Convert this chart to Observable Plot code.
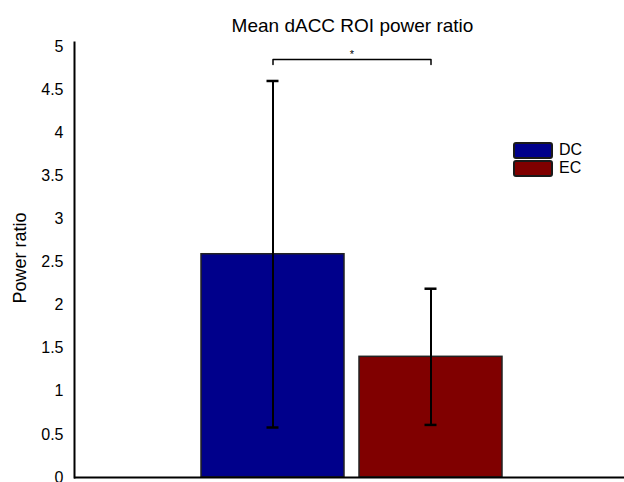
<!DOCTYPE html>
<html>
<head>
<meta charset="utf-8">
<script src="https://cdn.jsdelivr.net/npm/d3@7"></script>
<script src="https://cdn.jsdelivr.net/npm/@observablehq/plot@0.6"></script>
<style>
  html, body { margin: 0; padding: 0; background: #fff; }
  #wrap { position: relative; width: 624px; height: 482px; font-family: Arial, "Liberation Sans", sans-serif; }
  .legend { position: absolute; left: 513px; top: 141px; font-size: 16px; }
  .legend .row { display: flex; align-items: center; height: 18px; }
  .legend .sw { width: 36px; height: 13px; border: 2px solid #1a1a1a; border-radius: 3px; margin-right: 6px; box-sizing: content-box; }
</style>
</head>
<body>
<div id="wrap"></div>
<script>
const groups = ["DC", "EC"];
const means = [2.59, 1.40];
const errors = [2.01, 0.79];
const colors = ["#00008b", "#800000"];
const yTicks = [0, 0.5, 1, 1.5, 2, 2.5, 3, 3.5, 4, 4.5, 5];
const title = "Mean dACC ROI power ratio";
const yLabel = "Power ratio";
const sigLabel = "*";
const bracketY = 4.85;
const bracketTick = 4.79;

const data = groups.map((g, i) => ({group: g, mean: means[i], lo: means[i] - errors[i], hi: means[i] + errors[i], color: colors[i]}));
const bracket = [
  {group: groups[0], y: bracketTick},
  {group: groups[0], y: bracketY},
  {group: groups[1], y: bracketY},
  {group: groups[1], y: bracketTick}
];

const font = "Arial, 'Liberation Sans', sans-serif";

const plot = Plot.plot({
  width: 624,
  height: 482,
  marginLeft: 74,
  marginRight: 0,
  marginTop: 46,
  marginBottom: 5,
  style: {fontFamily: font, fontSize: "16px", color: "#000", background: "#fff", overflow: "visible"},
  x: {domain: groups, range: [201, 502], paddingInner: 0.095, paddingOuter: 0, axis: null},
  y: {domain: [0, 5], ticks: yTicks, tickFormat: d => `${d}`},
  marks: [
    Plot.barY(data, {x: "group", y: "mean", fill: "color", stroke: "#222", strokeWidth: 1.5}),
    Plot.ruleX(data, {x: "group", y1: "lo", y2: "hi", stroke: "#000", strokeWidth: 2}),
    Plot.tickY(data, {x: "group", y: "lo", stroke: "#000", strokeWidth: 2.5, insetLeft: 65.5, insetRight: 65.5}),
    Plot.tickY(data, {x: "group", y: "hi", stroke: "#000", strokeWidth: 2.5, insetLeft: 65.5, insetRight: 65.5}),
    Plot.line(bracket, {x: "group", y: "y", stroke: "#000", strokeWidth: 1.5}),
    Plot.text([sigLabel], {x: () => groups[0], y: () => bracketY, dx: 79, dy: -5, fontSize: 11, fill: "#000"}),
    Plot.axisY({ticks: yTicks, tickFormat: d => `${d}`, tickSize: 0, tickPadding: 11, fontSize: 16, label: null}),
    Plot.text([yLabel], {frameAnchor: "left", rotate: -90, dx: -54.5, dy: -4, lineAnchor: "middle", textAnchor: "middle", fontSize: 18, fill: "#000"}),
    Plot.ruleY([0], {stroke: "#000", strokeWidth: 2}),
    Plot.frame({anchor: "left", stroke: "#000", strokeWidth: 2, insetTop: -4}),
    Plot.text([title], {frameAnchor: "top", lineAnchor: "middle", dy: -21, dx: 3, fontSize: 19, fill: "#000"})
  ]
});

const wrap = document.getElementById("wrap");
wrap.appendChild(plot);

const legend = document.createElement("div");
legend.className = "legend";
groups.forEach((g, i) => {
  const row = document.createElement("div");
  row.className = "row";
  const sw = document.createElement("span");
  sw.className = "sw";
  sw.style.background = colors[i];
  const t = document.createElement("span");
  t.textContent = g;
  row.appendChild(sw);
  row.appendChild(t);
  legend.appendChild(row);
});
wrap.appendChild(legend);
</script>
</body>
</html>
